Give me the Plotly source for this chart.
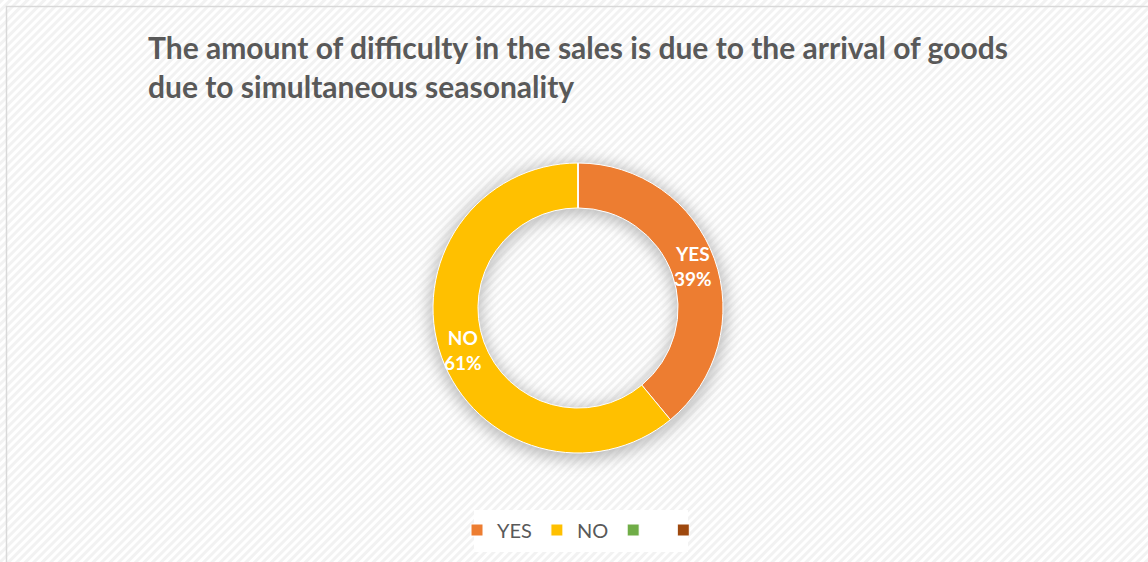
import math
import urllib.parse
import plotly.graph_objects as go

labels = ["YES", "NO", " ", "  "]
values = [39, 61, 0, 0]
colors = ["#ED7D31", "#FFC000", "#70AD47", "#9E480E"]
title_text = "The amount of difficulty in the sales is due to the arrival of goods<br>due to simultaneous seasonality"

W, H = 1148, 562
cx, cy, R = 578, 308, 145
HOLE = 0.69

# background diagonal hatching + soft shadow
hatch_svg = (
    "<svg xmlns='http://www.w3.org/2000/svg' width='1148' height='562'>"
    "<defs><pattern id='p' width='6' height='6' patternUnits='userSpaceOnUse' patternTransform='rotate(45)'>"
    "<rect width='6' height='6' fill='#ffffff'/><rect width='3' height='6' fill='#f2f2f2'/></pattern>"
    "<filter id='b' x='-50%' y='-50%' width='200%' height='200%'><feGaussianBlur stdDeviation='8'/></filter></defs>"
    "<rect width='1148' height='562' fill='url(#p)'/>"
    f"<circle cx='{cx}' cy='{cy+3}' r='{R-22}' fill='none' stroke='#a6a6a6' stroke-width='52' filter='url(#b)' opacity='0.75'/>"
    "<rect x='474' y='510' width='214' height='42' fill='#ffffff'/>"
    "</svg>"
)
hatch_uri = "data:image/svg+xml;charset=utf-8," + urllib.parse.quote(hatch_svg)

fig = go.Figure()
fig.add_trace(go.Pie(
    labels=labels,
    values=values,
    textinfo="none",
    hole=HOLE,
    sort=False,
    direction="clockwise",
    rotation=0,
    marker=dict(colors=colors, line=dict(color="#ffffff", width=1)),
    domain=dict(x=[(cx - R) / W, (cx + R) / W], y=[(H - cy - R) / H, (H - cy + R) / H]),
    showlegend=True,
    hoverinfo="label+percent",
))

# slice labels placed at the middle of each slice (derived from the data)
total = sum(values)
annotations = []
acc = 0.0
rmid = R * (1 + HOLE) / 2
for lab, v in zip(labels, values):
    if v <= 0:
        continue
    mid = (acc + v / 2) / total * 2 * math.pi
    acc += v
    px = cx + rmid * math.sin(mid)
    py = cy - rmid * math.cos(mid)
    annotations.append(dict(
        text=f"{lab}<br>{round(100 * v / total)}%", xref="paper", yref="paper",
        x=px / W, y=(H - py) / H, xanchor="center", yanchor="middle",
        showarrow=False, align="center",
        font=dict(family="Lato", size=19, color="#ffffff", weight="bold")))

annotations.append(dict(text=title_text, xref="paper", yref="paper",
                        x=146 / W, y=1 - 27 / H, xanchor="left", yanchor="top",
                        align="left", showarrow=False,
                        font=dict(family="Lato", size=30, color="#595959", weight="bold")))

fig.update_layout(
    width=W, height=H,
    margin=dict(l=0, r=0, t=0, b=0),
    paper_bgcolor="#ffffff",
    plot_bgcolor="#ffffff",
    showlegend=True,
    legend=dict(
        orientation="h", x=0.5 + 14 / W, xanchor="center", y=(H - 530) / H, yanchor="middle",
        font=dict(family="Lato", size=20, color="#595959"),
        bgcolor="rgba(255,255,255,0)",
        traceorder="normal",
        itemwidth=30,
    ),
    images=[dict(source=hatch_uri, xref="paper", yref="paper", x=0, y=1,
                 sizex=1, sizey=1, xanchor="left", yanchor="top",
                 sizing="stretch", layer="below")],
    shapes=[dict(type="rect", xref="paper", yref="paper",
                 x0=6.5 / W, x1=1.2, y0=-0.2, y1=1 - 6.5 / H,
                 line=dict(color="#d9d9d9", width=1.5), fillcolor="rgba(0,0,0,0)")],
    annotations=annotations,
)

fig.write_html("out.html")
